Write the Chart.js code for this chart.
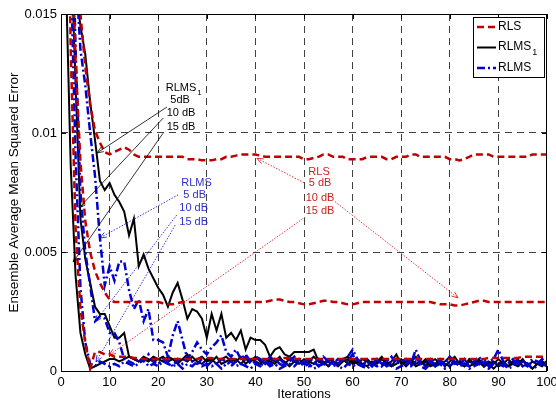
<!DOCTYPE html>
<html>
<head>
<meta charset="utf-8">
<script src="https://cdn.jsdelivr.net/npm/chart.js@4.4.0/dist/chart.umd.min.js"></script>
<style>
  html, body { margin: 0; padding: 0; background: #fff; overflow: hidden; }
  canvas { display: block; }
</style>
</head>
<body>
<canvas id="mse-chart" width="556" height="401" style="width:556px;height:401px"></canvas>
<script>
// ── Data ──────────────────────────────────────────────────

const iterations = [
  1, 2, 3, 4, 5, 6, 7, 8, 9, 10, 11, 12, 13, 14, 15, 16, 17, 18, 19, 20,
  21, 22, 23, 24, 25, 26, 27, 28, 29, 30, 31, 32, 33, 34, 35, 36, 37, 38, 39, 40,
  41, 42, 43, 44, 45, 46, 47, 48, 49, 50, 51, 52, 53, 54, 55, 56, 57, 58, 59, 60,
  61, 62, 63, 64, 65, 66, 67, 68, 69, 70, 71, 72, 73, 74, 75, 76, 77, 78, 79, 80,
  81, 82, 83, 84, 85, 86, 87, 88, 89, 90, 91, 92, 93, 94, 95, 96, 97, 98, 99, 100,
];

const xTickLabels = ['0', '10', '20', '30', '40', '50', '60', '70', '80', '90', '100'];
const yTickLabels = ['0', '0.005', '0.01', '0.015'];

// RLS (red dashed)
const rls5dB = [
  0.040, 0.025, 0.0175, 0.0150, 0.0128, 0.0112, 0.0101, 0.0096, 0.0092, 0.0091,
  0.0092, 0.0093, 0.0094, 0.0093, 0.0091, 0.0090, 0.0090, 0.0090, 0.0090, 0.0090,
  0.0090, 0.0090, 0.0090, 0.0090, 0.0090, 0.0089, 0.0089, 0.0089, 0.00885, 0.00885,
  0.00885, 0.0089, 0.0089, 0.0090, 0.0090, 0.00905, 0.0091, 0.0091, 0.0091, 0.0091,
  0.00905, 0.0090, 0.0090, 0.0090, 0.0090, 0.0090, 0.0090, 0.0090, 0.0090, 0.0089,
  0.0089, 0.00895, 0.0090, 0.0091, 0.0091, 0.0090, 0.0090, 0.0090, 0.0089, 0.0089,
  0.0089, 0.0089, 0.0090, 0.0090, 0.0090, 0.0090, 0.0089, 0.0089, 0.0090, 0.0090,
  0.0090, 0.0091, 0.0091, 0.0090, 0.0090, 0.0090, 0.0090, 0.0090, 0.0090, 0.0089,
  0.0089, 0.00885, 0.0089, 0.0090, 0.0091, 0.0091, 0.0091, 0.0091, 0.0090, 0.0090,
  0.0090, 0.0090, 0.0090, 0.0090, 0.0090, 0.0090, 0.0091, 0.0091, 0.0091, 0.0091,
];
const rls10dB = [
  0.035, 0.020, 0.0130, 0.0088, 0.0063, 0.0050, 0.0042, 0.0037, 0.0033, 0.0030,
  0.0029, 0.0029, 0.0029, 0.0029, 0.0029, 0.0029, 0.0029, 0.0029, 0.0029, 0.0029,
  0.00285, 0.0028, 0.0028, 0.00285, 0.0029, 0.0029, 0.0029, 0.0029, 0.0029, 0.0029,
  0.0029, 0.0029, 0.0029, 0.0029, 0.0029, 0.0029, 0.0029, 0.0029, 0.0029, 0.0029,
  0.0029, 0.0029, 0.00295, 0.0030, 0.0030, 0.00295, 0.0029, 0.0029, 0.00285, 0.0028,
  0.0028, 0.00285, 0.0029, 0.00295, 0.00295, 0.0029, 0.0029, 0.00285, 0.0028, 0.0028,
  0.00285, 0.0029, 0.0029, 0.0029, 0.0029, 0.0029, 0.0029, 0.0029, 0.0029, 0.0029,
  0.0029, 0.0029, 0.0029, 0.0029, 0.0029, 0.0029, 0.00285, 0.0028, 0.0028, 0.0028,
  0.00275, 0.00275, 0.0028, 0.00285, 0.0029, 0.00295, 0.00295, 0.0029, 0.0029, 0.0029,
  0.0029, 0.0029, 0.0029, 0.0029, 0.0029, 0.0029, 0.0029, 0.0029, 0.0029, 0.0029,
];
const rls15dB = [
  0.026, 0.0135, 0.0060, 0.0026, 0.0012, 0.0001, 0.0008, 0.0008, 0.0007, 0.0007,
  0.0006, 0.0006, 0.0006, 0.0006, 0.00055, 0.00055, 0.0005, 0.0005, 0.0005, 0.0005,
  0.0005, 0.0005, 0.0005, 0.0005, 0.0005, 0.0005, 0.0005, 0.0005, 0.00055, 0.00055,
  0.00055, 0.0005, 0.0005, 0.0005, 0.0005, 0.0005, 0.0005, 0.0005, 0.0005, 0.0005,
  0.0005, 0.0005, 0.0005, 0.0005, 0.0005, 0.00055, 0.00055, 0.0005, 0.0005, 0.0005,
  0.0005, 0.0005, 0.0005, 0.0005, 0.0005, 0.0005, 0.0005, 0.0005, 0.0005, 0.0005,
  0.0005, 0.0005, 0.0005, 0.0005, 0.0005, 0.0005, 0.0005, 0.0005, 0.0005, 0.0005,
  0.0005, 0.0005, 0.0005, 0.0005, 0.0005, 0.0005, 0.0005, 0.0005, 0.0005, 0.0005,
  0.0005, 0.0005, 0.0005, 0.0005, 0.0005, 0.0005, 0.0005, 0.00055, 0.00055, 0.00055,
  0.00055, 0.00055, 0.00055, 0.00055, 0.0006, 0.0006, 0.0006, 0.0006, 0.0006, 0.0006,
];

// RLMS1 (black solid)
const rlms1_5dB = [
  0.040, 0.025, 0.0160, 0.0145, 0.0133, 0.0113, 0.0097, 0.0080, 0.0076, 0.0079,
  0.0074, 0.0071, 0.0067, 0.0057, 0.0064, 0.0044, 0.0049, 0.0043, 0.0039, 0.0035,
  0.0032, 0.0027, 0.0033, 0.0037, 0.0030, 0.0022, 0.0026, 0.0025, 0.0022, 0.0014,
  0.0024, 0.0017, 0.0024, 0.0014, 0.0016, 0.0013, 0.0017, 0.0009, 0.0014, 0.0013,
  0.0013, 0.0011, 0.0006, 0.0009, 0.0010, 0.0007, 0.0006, 0.0008, 0.0008, 0.0008,
  0.0008, 0.0009, 0.0004, 0.0003, 0.0005, 0.0004, 0.0002, 0.0004, 0.0005, 0.0003,
  0.0004, 0.0002, 0.0005, 0.0003, 0.0004, 0.0006, 0.0003, 0.0002, 0.0005, 0.0004,
  0.0002, 0.0004, 0.0006, 0.0003, 0.0004, 0.0002, 0.0003, 0.0005, 0.0002, 0.0004,
  0.0006, 0.0003, 0.0002, 0.0004, 0.0003, 0.0005, 0.0002, 0.0003, 0.0004, 0.0002,
  0.0003, 0.0005, 0.0003, 0.0002, 0.0004, 0.0003, 0.0001, 0.0003, 0.0004, 0.0002,
];
const rlms1_10dB = [
  0.035, 0.018, 0.0121, 0.0064, 0.0047, 0.0037, 0.0027, 0.0024, 0.0024, 0.0019,
  0.0014, 0.0014, 0.0016, 0.0006, 0.0005, 0.0004, 0.0005, 0.0004, 0.0006, 0.0005,
  0.0004, 0.0006, 0.0005, 0.0004, 0.0005, 0.0007, 0.0004, 0.0005, 0.0006, 0.0004,
  0.0005, 0.0003, 0.0005, 0.0006, 0.0004, 0.0005, 0.0003, 0.0005, 0.0004, 0.0006,
  0.0004, 0.0003, 0.0005, 0.0004, 0.0006, 0.0003, 0.0005, 0.0004, 0.0003, 0.0005,
  0.0004, 0.0006, 0.0004, 0.0003, 0.0005, 0.0004, 0.0003, 0.0005, 0.0006, 0.0004,
  0.0003, 0.0005, 0.0004, 0.0002, 0.0004, 0.0005, 0.0003, 0.0004, 0.0007, 0.0003,
  0.0004, 0.0005, 0.0003, 0.0004, 0.0002, 0.0004, 0.0005, 0.0003, 0.0004, 0.0006,
  0.0003, 0.0004, 0.0002, 0.0005, 0.0003, 0.0004, 0.0002, 0.0004, 0.0003, 0.0005,
  0.0003, 0.0002, 0.0004, 0.0003, 0.0005, 0.0002, 0.0004, 0.0003, 0.0002, 0.0004,
];
const rlms1_15dB = [
  0.0166, 0.0086, 0.0040, 0.0016, 0.0007, 0.0001, 0.0002, 0.0003, 0.0004, 0.0005,
  0.0005, 0.0004, 0.0005, 0.0006, 0.0005, 0.0004, 0.0006, 0.0005, 0.0004, 0.0005,
  0.0006, 0.0004, 0.0005, 0.0003, 0.0005, 0.0004, 0.0006, 0.0004, 0.0003, 0.0005,
  0.0004, 0.0006, 0.0003, 0.0004, 0.0005, 0.0004, 0.0006, 0.0003, 0.0005, 0.0004,
  0.0003, 0.0005, 0.0004, 0.0003, 0.0005, 0.0004, 0.0002, 0.0004, 0.0005, 0.0003,
  0.0004, 0.0003, 0.0005, 0.0004, 0.0002, 0.0004, 0.0003, 0.0005, 0.0003, 0.0004,
  0.0005, 0.0003, 0.0002, 0.0004, 0.0003, 0.0005, 0.0004, 0.0002, 0.0003, 0.0005,
  0.0003, 0.0004, 0.0002, 0.0003, 0.0005, 0.0003, 0.0002, 0.0004, 0.0003, 0.0002,
  0.0004, 0.0003, 0.0005, 0.0002, 0.0003, 0.0004, 0.0002, 0.0003, 0.0001, 0.0003,
  0.0004, 0.0002, 0.0003, 0.0005, 0.0002, 0.0003, 0.0001, 0.0003, 0.0004, 0.0002,
];

// RLMS (blue dash-dot)
const rlms5dB = [
  0.040, 0.025, 0.0170, 0.0135, 0.0120, 0.0100, 0.0082, 0.0056, 0.0036, 0.0044,
  0.0038, 0.0046, 0.0046, 0.0034, 0.0026, 0.0030, 0.0021, 0.0026, 0.0013, 0.0013,
  0.0012, 0.0006, 0.0015, 0.0021, 0.0013, 0.0005, 0.0008, 0.0012, 0.0009, 0.0007,
  0.0010, 0.0012, 0.0015, 0.0008, 0.0006, 0.0009, 0.0005, 0.0007, 0.0004, 0.0006,
  0.0005, 0.0003, 0.0006, 0.0004, 0.0005, 0.0003, 0.0006, 0.0004, 0.0005, 0.0003,
  0.0005, 0.0004, 0.0002, 0.0006, 0.0004, 0.0003, 0.0005, 0.0004, 0.0006, 0.0009,
  0.0005, 0.0003, 0.0004, 0.0002, 0.0005, 0.0003, 0.0004, 0.0006, 0.0003, 0.0004,
  0.0005, 0.0003, 0.0009, 0.0004, 0.0003, 0.0005, 0.0002, 0.0004, 0.0003, 0.0006,
  0.0004, 0.0002, 0.0005, 0.0003, 0.0004, 0.0006, 0.0003, 0.0004, 0.0005, 0.0009,
  0.0004, 0.0003, 0.0005, 0.0002, 0.0004, 0.0003, 0.0005, 0.0004, 0.0003, 0.0004,
];
const rlms10dB = [
  0.035, 0.022, 0.0135, 0.0075, 0.0050, 0.0036, 0.0021, 0.0023, 0.0022, 0.0016,
  0.0016, 0.0012, 0.0005, 0.0004, 0.0003, 0.0005, 0.0004, 0.0007, 0.0004, 0.0003,
  0.0005, 0.0004, 0.0002, 0.0005, 0.0003, 0.0006, 0.0004, 0.0003, 0.0005, 0.0002,
  0.0004, 0.0003, 0.0005, 0.0004, 0.0002, 0.0004, 0.0003, 0.0006, 0.0003, 0.0004,
  0.0002, 0.0004, 0.0003, 0.0005, 0.0003, 0.0002, 0.0004, 0.0006, 0.0003, 0.0004,
  0.0002, 0.0003, 0.0005, 0.0003, 0.0004, 0.0002, 0.0003, 0.0005, 0.0004, 0.0007,
  0.0003, 0.0002, 0.0004, 0.0003, 0.0005, 0.0002, 0.0004, 0.0003, 0.0005, 0.0002,
  0.0003, 0.0004, 0.0006, 0.0003, 0.0002, 0.0004, 0.0003, 0.0005, 0.0002, 0.0004,
  0.0003, 0.0005, 0.0003, 0.0002, 0.0004, 0.0003, 0.0005, 0.0002, 0.0004, 0.0003,
  0.0002, 0.0004, 0.0003, 0.0005, 0.0003, 0.0002, 0.0004, 0.0003, 0.0005, 0.0003,
];
const rlms15dB = [
  0.022, 0.0170, 0.0090, 0.0035, 0.0012, 0.0003, 0.0002, 0.0004, 0.0003, 0.0002,
  0.0003, 0.0002, 0.0004, 0.0003, 0.0002, 0.0003, 0.0005, 0.0002, 0.0003, 0.0002,
  0.0004, 0.0003, 0.0002, 0.0003, 0.0001, 0.0003, 0.0002, 0.0004, 0.0002, 0.0003,
  0.0002, 0.0003, 0.0001, 0.0003, 0.0004, 0.0002, 0.0003, 0.0002, 0.0001, 0.0003,
  0.0002, 0.0004, 0.0002, 0.0003, 0.0001, 0.0002, 0.0003, 0.0002, 0.0004, 0.0002,
  0.0003, 0.0001, 0.0002, 0.0003, 0.0002, 0.0004, 0.0002, 0.0001, 0.0003, 0.0002,
  0.0003, 0.0002, 0.0001, 0.0003, 0.0002, 0.0004, 0.0002, 0.0003, 0.0001, 0.0002,
  0.0003, 0.0002, 0.0004, 0.0002, 0.0001, 0.0003, 0.0002, 0.0003, 0.0001, 0.0002,
  0.0004, 0.0002, 0.0003, 0.0001, 0.0002, 0.0003, 0.0002, 0.0001, 0.0003, 0.0002,
  0.0003, 0.0001, 0.0002, 0.0004, 0.0002, 0.0003, 0.0001, 0.0002, 0.0003, 0.0002,
];

// ── Styles ────────────────────────────────────────────────

const FONT   = '"Liberation Sans", Arial, Helvetica, sans-serif';
const RED    = '#c00000';
const BLUE   = '#0000d0';
const BLACK  = '#000000';
const RLS_DASH  = [7, 4];
const RLMS_DASH = [8, 3, 2, 3];

// Text labels and pointer arrows, in data coordinates [iteration, mse]
const notes = [
  { text: 'RLMS',  sub: '1', at: [24.7, 0.01191], color: BLACK },
  { text: '5dB',   at: [24.5, 0.01139], color: BLACK },
  { text: '10 dB', at: [24.7, 0.01086], color: BLACK },
  { text: '15 dB', at: [24.7, 0.01025], color: BLACK },
  { text: 'RLMS',  at: [27.9, 0.00792], color: '#3030d0' },
  { text: '5 dB',  at: [27.5, 0.00739], color: '#3030d0' },
  { text: '10 dB', at: [27.3, 0.00683], color: '#3030d0' },
  { text: '15 dB', at: [27.3, 0.00628], color: '#3030d0' },
  { text: 'RLS',   at: [53.1, 0.00838], color: '#d02020' },
  { text: '5 dB',  at: [53.3, 0.00790], color: '#d02020' },
  { text: '10 dB', at: [53.3, 0.00729], color: '#d02020' },
  { text: '15 dB', at: [53.3, 0.00674], color: '#d02020' },
];
const pointers = [
  { from: [21.8, 0.01109], to: [7.4, 0.00916], color: BLACK, dash: [] },
  { from: [21.0, 0.01062], to: [3.7, 0.00685], color: BLACK, dash: [] },
  { from: [21.0, 0.00999], to: [2.5, 0.00458], color: BLACK, dash: [] },
  { from: [24.1, 0.00740], to: [8.0, 0.00559], color: BLUE, dash: [1.5, 1.5] },
  { from: [23.8, 0.00655], to: [7.0, 0.00206], color: BLUE, dash: [1.5, 1.5] },
  { from: [23.5, 0.00613], to: [7.2, 0.00038], color: BLUE, dash: [1.5, 1.5] },
  { from: [50.0, 0.00791], to: [40.3, 0.00894], color: '#e00000', dash: [1.5, 1.5] },
  { from: [56.4, 0.00711], to: [81.7, 0.00307], color: '#e00000', dash: [1.5, 1.5] },
  { from: [50.2, 0.00646], to: [9.9, 0.00067], color: '#e00000', dash: [1.5, 1.5] },
];

// ── Helpers ───────────────────────────────────────────────

function _arrow(ctx, x1, y1, x2, y2, color, dash) {
  ctx.save();
  ctx.strokeStyle = color;
  ctx.lineWidth   = 0.8;
  ctx.setLineDash(dash);
  ctx.beginPath(); ctx.moveTo(x1, y1); ctx.lineTo(x2, y2); ctx.stroke();
  ctx.setLineDash([]);
  const a = Math.atan2(y2 - y1, x2 - x1), len = 7, w = 0.38;
  ctx.beginPath();
  ctx.moveTo(x2 - len * Math.cos(a - w), y2 - len * Math.sin(a - w));
  ctx.lineTo(x2, y2);
  ctx.lineTo(x2 - len * Math.cos(a + w), y2 - len * Math.sin(a + w));
  ctx.stroke();
  ctx.restore();
}

// Box, inward ticks, annotations and legend, MATLAB style
const framePlugin = {
  id: 'frame',
  afterDraw(chart) {
    const { ctx, chartArea: ca, scales: { x, y } } = chart;
    ctx.save();

    // box
    ctx.strokeStyle = BLACK;
    ctx.lineWidth   = 1;
    ctx.strokeRect(ca.left + 0.5, ca.top + 0.5, ca.right - ca.left - 1, ca.bottom - ca.top);

    // inward ticks
    ctx.beginPath();
    x.ticks.forEach(t => {
      const px = Math.round(x.getPixelForValue(t.value)) + 0.5;
      ctx.moveTo(px, ca.bottom); ctx.lineTo(px, ca.bottom - 5);
      ctx.moveTo(px, ca.top);    ctx.lineTo(px, ca.top + 5);
    });
    y.ticks.forEach(t => {
      const py = Math.round(y.getPixelForValue(t.value)) + 0.5;
      ctx.moveTo(ca.left, py);  ctx.lineTo(ca.left + 5, py);
      ctx.moveTo(ca.right, py); ctx.lineTo(ca.right - 5, py);
    });
    ctx.stroke();

    // pointers
    pointers.forEach(p => _arrow(ctx,
      x.getPixelForValue(p.from[0]), y.getPixelForValue(p.from[1]),
      x.getPixelForValue(p.to[0]),   y.getPixelForValue(p.to[1]),
      p.color, p.dash));

    // labels
    ctx.textAlign    = 'center';
    ctx.textBaseline = 'middle';
    notes.forEach(n => {
      const px = x.getPixelForValue(n.at[0]);
      const py = y.getPixelForValue(n.at[1]);
      ctx.font      = `11px ${FONT}`;
      ctx.fillStyle = n.color;
      ctx.fillText(n.text, px, py);
      if (n.sub) {
        const w = ctx.measureText(n.text).width;
        ctx.font = `8px ${FONT}`;
        ctx.textAlign = 'left';
        ctx.fillText(n.sub, px + w / 2 + 1, py + 5);
        ctx.textAlign = 'center';
      }
    });

    // legend
    const lx = 473, ly = 17, lw = 71, lh = 60;
    ctx.fillStyle = '#fff';
    ctx.fillRect(lx, ly, lw, lh);
    ctx.strokeStyle = BLACK;
    ctx.lineWidth   = 1;
    ctx.strokeRect(lx + 0.5, ly + 0.5, lw, lh);
    const entries = [
      { label: 'RLS',  color: RED,   dash: RLS_DASH,  width: 2.5, yy: 27 },
      { label: 'RLMS', color: BLACK, dash: [],        width: 2,   yy: 47.5, sub: '1' },
      { label: 'RLMS', color: BLUE,  dash: RLMS_DASH, width: 2.5, yy: 68 },
    ];
    entries.forEach(e => {
      ctx.strokeStyle = e.color;
      ctx.lineWidth   = e.width;
      ctx.setLineDash(e.dash);
      ctx.beginPath(); ctx.moveTo(477, e.yy); ctx.lineTo(496, e.yy); ctx.stroke();
      ctx.setLineDash([]);
      ctx.fillStyle    = BLACK;
      ctx.textAlign    = 'left';
      ctx.font         = `12px ${FONT}`;
      const ty = e.sub ? e.yy - 1 : e.yy;
      ctx.fillText(e.label, 498, ty);
      if (e.sub) {
        const w = ctx.measureText(e.label).width;
        ctx.font = `9px ${FONT}`;
        ctx.fillText(e.sub, 498 + w + 1, ty + 6);
      }
    });

    ctx.restore();
  },
};

// ── Chart ─────────────────────────────────────────────────

function _line(label, data, color, dash, width) {
  return {
    label, data,
    borderColor: color, backgroundColor: color,
    borderDash: dash, borderWidth: width,
    pointRadius: 0, tension: 0, clip: 0, fill: false,
  };
}

const gridColor = ctx => (ctx.index === 0 || ctx.index === ctx.scale.ticks.length - 1)
  ? 'rgba(0,0,0,0)' : 'rgba(0,0,0,0.75)';

new Chart(document.getElementById('mse-chart').getContext('2d'), {
  type: 'line',
  data: {
    labels: iterations,
    datasets: [
      _line('RLS 5 dB',    rls5dB,     RED,   RLS_DASH,  2.5),
      _line('RLS 10 dB',   rls10dB,    RED,   RLS_DASH,  2.5),
      _line('RLS 15 dB',   rls15dB,    RED,   RLS_DASH,  2.5),
      _line('RLMS 5 dB',   rlms5dB,    BLUE,  RLMS_DASH, 2.5),
      _line('RLMS 10 dB',  rlms10dB,   BLUE,  RLMS_DASH, 2.5),
      _line('RLMS 15 dB',  rlms15dB,   BLUE,  RLMS_DASH, 2.5),
      _line('RLMS1 5 dB',  rlms1_5dB,  BLACK, [],        2),
      _line('RLMS1 10 dB', rlms1_10dB, BLACK, [],        2),
      _line('RLMS1 15 dB', rlms1_15dB, BLACK, [],        2),
    ],
  },
  options: {
    responsive: false,
    devicePixelRatio: 1,
    animation: false,
    layout: { padding: { left: 0, top: 14, right: 9, bottom: 0 } },
    plugins: { legend: { display: false }, tooltip: { enabled: false } },
    scales: {
      x: {
        type: 'linear', min: 0, max: 100,
        afterFit: s => { s.height = 30; s.paddingLeft = 0; s.paddingRight = 0; },
        ticks: {
          stepSize: 10, maxRotation: 0, autoSkip: false, padding: 4,
          color: BLACK, font: { family: FONT, size: 13 },
          callback: (v, i) => xTickLabels[i],
        },
        grid:   { color: gridColor, lineWidth: 1, drawTicks: false },
        border: { display: false, dash: [7, 5] },
        title:  {
          display: true, text: 'Iterations', color: BLACK,
          font: { family: FONT, size: 13, lineHeight: 1 }, padding: { top: 0, bottom: 0 },
        },
      },
      y: {
        min: 0, max: 0.015,
        afterFit: s => { s.width = 61; s.paddingTop = 0; s.paddingBottom = 0; },
        ticks: {
          stepSize: 0.005, padding: 4,
          color: BLACK, font: { family: FONT, size: 13 },
          callback: (v, i) => yTickLabels[i],
        },
        grid:   { color: gridColor, lineWidth: 1, drawTicks: false },
        border: { display: false, dash: [7, 5] },
        title:  {
          display: true, text: 'Ensemble Average Mean Squared Error', color: BLACK,
          font: { family: FONT, size: 13.5, lineHeight: 1 }, padding: { top: 8, bottom: 0 },
        },
      },
    },
  },
  plugins: [framePlugin],
});
</script>
</body>
</html>
